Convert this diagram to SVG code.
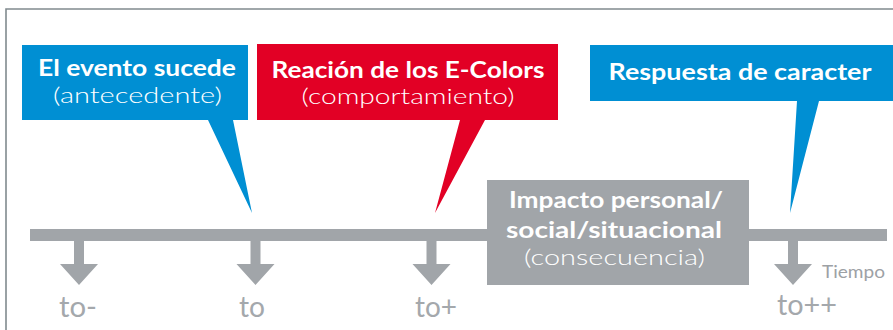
<svg xmlns="http://www.w3.org/2000/svg" width="893" height="330" viewBox="0 0 893 330">
<style>
.frame{fill:none;stroke:#818a8e;stroke-width:1.6}
.blue{fill:#008fd3}
.red{fill:#e20025}
.grey{fill:#a1a5a9}
.t{font-family:"Lato","Liberation Sans",sans-serif;fill:#ffffff;text-anchor:middle}
.b{font-weight:bold;font-size:22px}
.l{font-weight:300;font-size:22px}
.lab{font-family:"Lato","Liberation Sans",sans-serif;fill:#a4a8ac;font-size:28px}
.small{font-family:"Lato","Liberation Sans",sans-serif;fill:#9da1a5;font-size:18px}
</style>
<defs>
<path id="arr" class="grey" d="M-5,0 H5 V23 H19 L0,44 L-19,23 H-5 Z"/>
</defs>
<path class="frame" d="M6,330 V9 H893"/>
<g id="timeline">
<rect class="grey" x="30" y="229" width="857" height="12"/>
<use href="#arr" x="79" y="241"/>
<use href="#arr" x="255.5" y="241"/>
<use href="#arr" x="431.5" y="241"/>
<use href="#arr" x="793" y="241"/>
<text class="lab" x="59" y="317" textLength="38" lengthAdjust="spacingAndGlyphs">to-</text>
<text class="lab" x="239" y="317" textLength="26" lengthAdjust="spacingAndGlyphs">to</text>
<text class="lab" x="415" y="317" textLength="42" lengthAdjust="spacingAndGlyphs">to+</text>
<text class="lab" x="777" y="315" textLength="60" lengthAdjust="spacingAndGlyphs">to++</text>
<text class="small" x="822" y="278" textLength="63" lengthAdjust="spacingAndGlyphs">Tiempo</text>
</g>
<g id="antecedente">
<path class="blue" d="M22,45 H248 V120 H233 L252,213 L208,120 H22 Z"/>
<text class="t b" x="137" y="76" textLength="198" lengthAdjust="spacingAndGlyphs">El evento sucede</text>
<text class="t l" x="137.5" y="103" textLength="169" lengthAdjust="spacingAndGlyphs">(antecedente)</text>
</g>
<g id="comportamiento">
<path class="red" d="M257,44 H558 V120 H485 L435,213 L460,120 H257 Z"/>
<text class="t b" x="408" y="77.5" textLength="273" lengthAdjust="spacingAndGlyphs">Reación de los E-Colors</text>
<text class="t l" x="408" y="104" textLength="213" lengthAdjust="spacingAndGlyphs">(comportamiento)</text>
</g>
<g id="caracter">
<path class="blue" d="M590,45 H893 V101 H819 L790,213 L797,101 H590 Z"/>
<text class="t b" x="740" y="80" textLength="263" lengthAdjust="spacingAndGlyphs">Respuesta de caracter</text>
</g>
<g id="consecuencia">
<rect class="grey" x="487" y="180" width="262" height="105"/>
<text class="t b" x="616" y="208" textLength="214" lengthAdjust="spacingAndGlyphs">Impacto personal/</text>
<text class="t b" x="614" y="238" textLength="216" lengthAdjust="spacingAndGlyphs">social/situacional</text>
<text class="t l" x="614.5" y="264.5" textLength="181" lengthAdjust="spacingAndGlyphs">(consecuencia)</text>
</g>
</svg>
